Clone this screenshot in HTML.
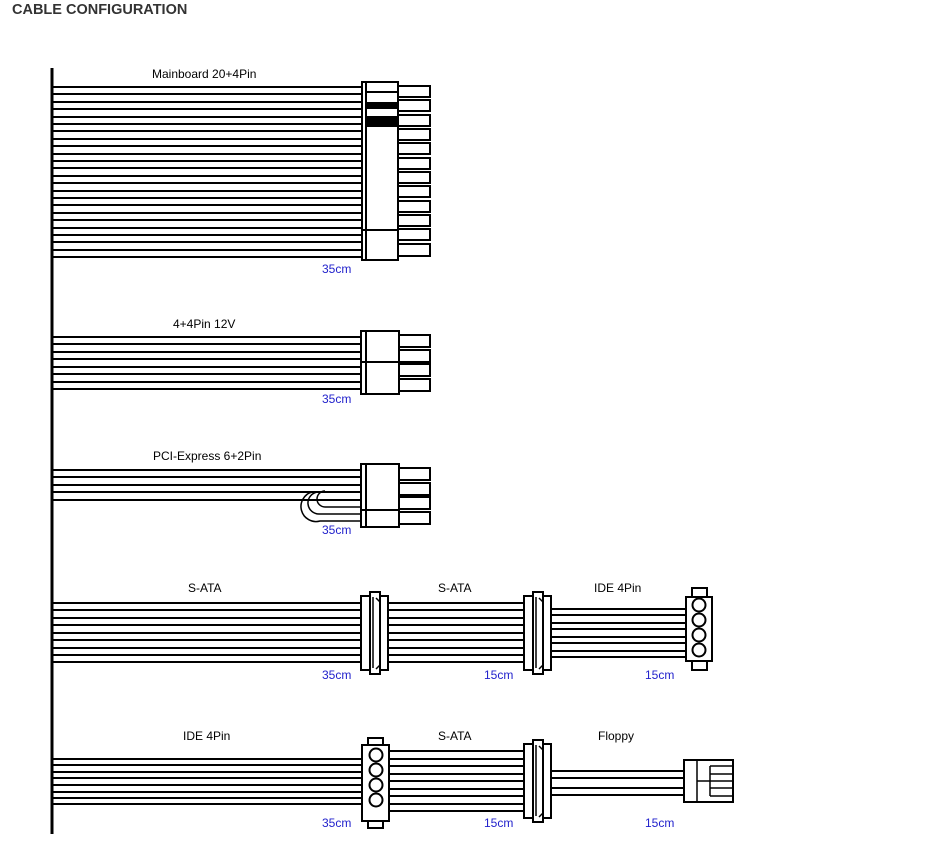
<!DOCTYPE html>
<html><head><meta charset="utf-8"><style>
html,body{margin:0;padding:0;background:#fff;}
body{width:937px;height:854px;overflow:hidden;position:relative;font-family:"Liberation Sans",sans-serif;}
.t{position:absolute;left:12px;top:2px;font-size:14.5px;font-weight:bold;color:#333;}
svg{position:absolute;left:0;top:0;}
text{font-family:"Liberation Sans",sans-serif;font-size:12px;}
.b{fill:#2222cc;}
</style></head><body>
<div class="t">CABLE CONFIGURATION</div>
<svg width="937" height="854" viewBox="0 0 937 854">
<g stroke="#000" stroke-width="2" fill="none">
<line x1="52" y1="68" x2="52" y2="834" stroke-width="3"/>
<path d="M52 87H362M52 94H362M52 102H362M52 109H362M52 117H362M52 124H362M52 131H362M52 139H362M52 146H362M52 154H362M52 161H362M52 168H362M52 176H362M52 183H362M52 191H362M52 198H362M52 205H362M52 213H362M52 220H362M52 228H362M52 235H362M52 242H362M52 250H362M52 257H362"/>
<rect x="362" y="82" width="36" height="178" fill="#fff"/>
<line x1="366" y1="82" x2="366" y2="260"/>
<line x1="366" y1="92" x2="398" y2="92"/>
<line x1="362" y1="230" x2="398" y2="230"/>
<rect x="366" y="103" width="32" height="5" fill="#000"/>
<rect x="366" y="117" width="32" height="9" fill="#000"/>
<rect x="398" y="86" width="32" height="11" fill="#fff"/><rect x="398" y="100" width="32" height="11" fill="#fff"/><rect x="398" y="115" width="32" height="11" fill="#fff"/><rect x="398" y="129" width="32" height="11" fill="#fff"/><rect x="398" y="143" width="32" height="11" fill="#fff"/><rect x="398" y="158" width="32" height="11" fill="#fff"/><rect x="398" y="172" width="32" height="11" fill="#fff"/><rect x="398" y="186" width="32" height="11" fill="#fff"/><rect x="398" y="201" width="32" height="11" fill="#fff"/><rect x="398" y="215" width="32" height="11" fill="#fff"/><rect x="398" y="229" width="32" height="11" fill="#fff"/><rect x="398" y="244" width="32" height="12" fill="#fff"/>
<path d="M52 337H361M52 344H361M52 352H361M52 359H361M52 367H361M52 374H361M52 382H361M52 389H361"/>
<rect x="361" y="331" width="38" height="63" fill="#fff"/>
<line x1="366" y1="331" x2="366" y2="394"/><line x1="361" y1="362" x2="399" y2="362"/>
<rect x="399" y="335" width="31" height="12" fill="#fff"/><rect x="399" y="350" width="31" height="12" fill="#fff"/><rect x="399" y="364" width="31" height="12" fill="#fff"/><rect x="399" y="379" width="31" height="12" fill="#fff"/>
<path d="M52 470H361M52 477H361M52 485H361M52 492H361M52 500H361"/>
<path d="M361 507H325A8 8 0 0 1 325 491M361 514H320A11 11 0 0 1 318 492M361 521H320A14 14 0 0 1 312 492" stroke-width="1.5"/>
<rect x="361" y="464" width="38" height="63" fill="#fff"/>
<line x1="366" y1="464" x2="366" y2="527"/><line x1="361" y1="510" x2="399" y2="510"/>
<rect x="399" y="468" width="31" height="12" fill="#fff"/><rect x="399" y="483" width="31" height="12" fill="#fff"/><rect x="399" y="497" width="31" height="12" fill="#fff"/><rect x="399" y="512" width="31" height="12" fill="#fff"/>
<path d="M52 603H362M52 610H362M52 618H362M52 625H362M52 633H362M52 640H362M52 648H362M52 655H362M52 662H362"/>
<path d="M388 603H525M388 610H525M388 618H525M388 625H525M388 633H525M388 640H525M388 648H525M388 655H525M388 662H525"/>
<path d="M550 609H686M550 615H686M550 623H686M550 629H686M550 637H686M550 643H686M550 651H686M550 657H686"/>
<rect x="361" y="596" width="27" height="74" fill="#fff"/><rect x="370" y="592" width="10" height="82" fill="#fff"/><path d="M373 597V668M376 598L380 602V665L376 669" stroke-width="1.5"/>
<rect x="524" y="596" width="27" height="74" fill="#fff"/><rect x="533" y="592" width="10" height="82" fill="#fff"/><path d="M536 597V668M539 598L543 602V665L539 669" stroke-width="1.5"/>
<rect x="692" y="588" width="15" height="82" fill="#fff"/>
<rect x="686" y="597" width="26" height="64" fill="#fff"/>
<circle cx="699" cy="605" r="6.5"/><circle cx="699" cy="620" r="6.5"/><circle cx="699" cy="635" r="6.5"/><circle cx="699" cy="650" r="6.5"/>
<path d="M52 759H362M52 765H362M52 772H362M52 778H362M52 785H362M52 792H362M52 798H362M52 804H362"/>
<path d="M390 751H525M390 759H525M390 766H525M390 774H525M390 781H525M390 789H525M390 796H525M390 804H525M390 811H525"/>
<path d="M550 771H684M550 778H684M550 788H684M550 795H684"/>
<rect x="368" y="738" width="15" height="90" fill="#fff"/>
<rect x="362" y="745" width="27" height="76" fill="#fff"/>
<circle cx="376" cy="755" r="6.5"/><circle cx="376" cy="770" r="6.5"/><circle cx="376" cy="785" r="6.5"/><circle cx="376" cy="800" r="6.5"/>
<rect x="524" y="744" width="27" height="74" fill="#fff"/><rect x="533" y="740" width="10" height="82" fill="#fff"/><path d="M536 745V816M539 746L543 750V813L539 817" stroke-width="1.5"/>
<rect x="684" y="760" width="49" height="42" fill="#fff"/>
<path d="M697 760V802M697 781H710M710 766V796M710 766H733M710 774H733M710 781H733M710 788H733M710 796H733" stroke-width="1.5"/>
</g>
<text x="152" y="78">Mainboard 20+4Pin</text>
<text x="173" y="328">4+4Pin 12V</text>
<text x="153" y="460">PCI-Express 6+2Pin</text>
<text x="188" y="592">S-ATA</text>
<text x="438" y="592">S-ATA</text>
<text x="594" y="592">IDE 4Pin</text>
<text x="183" y="740">IDE 4Pin</text>
<text x="438" y="740">S-ATA</text>
<text x="598" y="740">Floppy</text>
<text class="b" x="322" y="273">35cm</text>
<text class="b" x="322" y="403">35cm</text>
<text class="b" x="322" y="534">35cm</text>
<text class="b" x="322" y="679">35cm</text>
<text class="b" x="484" y="679">15cm</text>
<text class="b" x="645" y="679">15cm</text>
<text class="b" x="322" y="827">35cm</text>
<text class="b" x="484" y="827">15cm</text>
<text class="b" x="645" y="827">15cm</text>
</svg>
</body></html>
